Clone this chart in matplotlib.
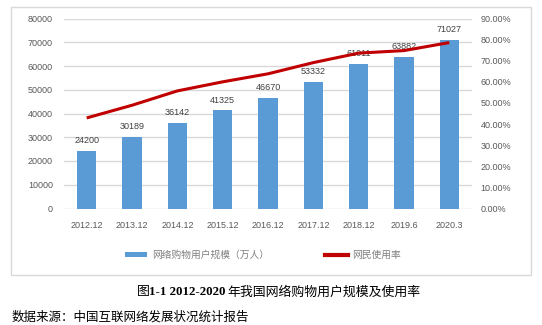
import matplotlib
matplotlib.use("Agg")
import matplotlib.pyplot as plt
from matplotlib.patches import Rectangle, Patch
from matplotlib.lines import Line2D
from matplotlib.ticker import FuncFormatter

periods = ["2012.12", "2013.12", "2014.12", "2015.12", "2016.12",
           "2017.12", "2018.12", "2019.6", "2020.3"]
users = [24200, 30189, 36142, 41325, 46670, 53332, 61011, 63882, 71027]
usage_rate = [0.429, 0.489, 0.557, 0.600, 0.638, 0.691, 0.736, 0.748, 0.786]

bar_name = "网络购物用户规模（万人）"
line_name = "网民使用率"
caption_prefix = "图"
caption_bold = "1-1 2012-2020"
caption_rest = "年我国网络购物用户规模及使用率"
source_note = "数据来源：中国互联网络发展状况统计报告"

W, H = 542, 325
fig = plt.figure(figsize=(W / 100, H / 100), dpi=100)
fig.patch.set_facecolor("white")

tick_font = ["Liberation Sans", "DejaVu Sans"]
cjk = ["Noto Sans CJK SC", "DejaVu Sans"]
serif_cjk = ["Liberation Serif", "Noto Sans CJK SC"]
tick_color = "#595959"

# outer chart frame
fig.patches.append(Rectangle((11 / W, 1 - 275 / H), 520 / W, (275 - 6.5) / H,
                             transform=fig.transFigure, fill=False,
                             edgecolor="#D9D9D9", linewidth=1.0))

ax = fig.add_axes([64 / W, 1 - 208.5 / H, 408 / W, 190 / H])
x = list(range(len(periods)))
bars = ax.bar(x, users, width=0.42, color="#5B9BD5", zorder=2)
ax.set_xlim(-0.5, len(periods) - 0.5)
ax.set_ylim(0, 80000)
ax.set_yticks(range(0, 80001, 10000))
ax.set_xticks(x)
ax.set_xticklabels(periods)
ax.grid(axis="y", color="#D9D9D9", linewidth=1.0, zorder=0)
ax.set_axisbelow(True)
for s in ax.spines.values():
    s.set_visible(False)
ax.tick_params(length=0, labelsize=6.5, colors=tick_color)
ax.tick_params(axis="x", pad=9)
ax.tick_params(axis="y", pad=8)
for lbl in ax.get_xticklabels() + ax.get_yticklabels():
    lbl.set_family(tick_font)

for xi, v in zip(x, users):
    ax.annotate(f"{v}", (xi, v), xytext=(0, 4), textcoords="offset points",
                ha="center", va="bottom", fontsize=6.5, color="#404040",
                family=tick_font)

ax2 = ax.twinx()
ax2.plot(x, usage_rate, color="#C00000", linewidth=2.2, solid_capstyle="butt")
ax2.set_ylim(0, 0.9)
ax2.set_yticks([i / 10 for i in range(10)])
ax2.yaxis.set_major_formatter(FuncFormatter(lambda v, _: f"{v * 100:.2f}%"))
for s in ax2.spines.values():
    s.set_visible(False)
ax2.tick_params(length=0, labelsize=6.5, colors=tick_color, pad=6)
for lbl in ax2.get_yticklabels():
    lbl.set_family(tick_font)

handles = [Patch(facecolor="#5B9BD5", edgecolor="none"),
           Line2D([], [], color="#C00000", linewidth=3)]
leg = fig.legend(handles, [bar_name, line_name], loc="center",
                 bbox_to_anchor=(263 / W, 1 - 255 / H), ncol=2, frameon=False,
                 prop={"family": cjk, "size": 7}, handlelength=2.3,
                 handleheight=0.5, handletextpad=0.5, columnspacing=5.8)
for t in leg.get_texts():
    t.set_color("#7F7F7F")

cy = 1 - 292 / H
fig.text(137 / W, cy, caption_prefix, fontsize=9.3, family=cjk, va="center", ha="left")
fig.text(149 / W, cy, caption_bold, fontsize=9.3, family=serif_cjk,
         fontweight="bold", va="center", ha="left")
fig.text(227 / W, cy, caption_rest, fontsize=9.3, family=cjk, va="center", ha="left")

fig.text(12 / W, 1 - 324 / H, source_note, fontsize=9, family=cjk,
         va="bottom", ha="left")

fig.savefig("out.png", dpi=100)
